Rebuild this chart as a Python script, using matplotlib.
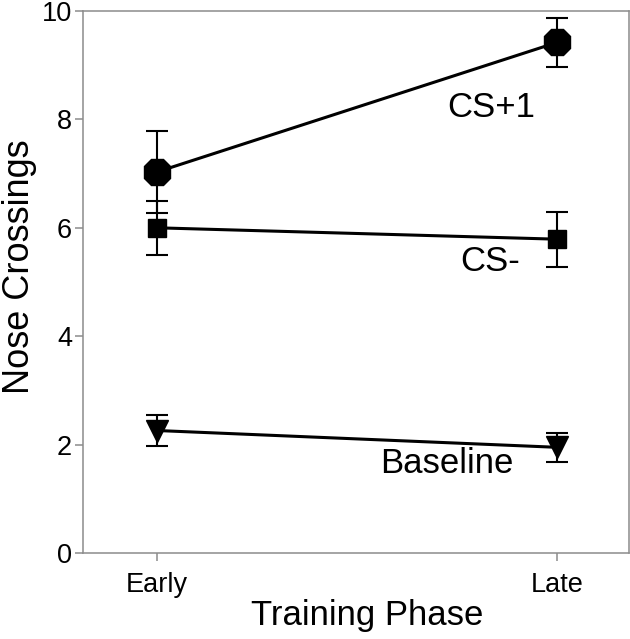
import matplotlib
matplotlib.use("Agg")
import matplotlib.pyplot as plt

plt.rcParams['font.family'] = ['Liberation Sans', 'DejaVu Sans']

phases = ['Early', 'Late']
cs_plus = [7.03, 9.42]
cs_plus_err = [0.76, 0.45]
cs_minus = [6.00, 5.79]
cs_minus_err = [0.50, 0.51]
baseline = [2.26, 1.95]
baseline_err = [0.28, 0.27]

# label text and where it sits (data coords)
labels = ['CS+1', 'CS-', 'Baseline']
label_x = [0.725, 0.758, 0.557]
label_y = [8.22, 5.37, 1.66]

fig = plt.figure(figsize=(6.3, 6.39), dpi=100)
ax = fig.add_axes([83/630, 1 - 553/639, 546/630, 542/639])

xs = list(range(len(phases)))
series = [
    (cs_plus, cs_plus_err, '8', 21),
    (cs_minus, cs_minus_err, 's', 13),
    (baseline, baseline_err, 'v', 16),
]
for vals, errs, mk, ms in series:
    ax.errorbar(xs, vals, yerr=errs, color='black', lw=2.2, marker=mk, ms=ms,
                ecolor='black', elinewidth=1.5, capsize=8, capthick=1.5, zorder=3)

for txt, lx, ly in zip(labels, label_x, label_y):
    ax.text(lx, ly, txt, fontsize=25, ha='left', va='center')

ax.set_xlim(-0.185, 1.18)
ax.set_ylim(0, 10)
ax.set_xticks(xs)
ax.set_xticklabels(phases)
ax.set_yticks([0, 2, 4, 6, 8, 10])

for s in ax.spines.values():
    s.set_color('#8c8c8c')
    s.set_linewidth(1.1)
ax.tick_params(axis='both', colors='#8c8c8c', labelcolor='black', length=6,
               width=1.1, labelsize=19.5)
ax.tick_params(axis='x', pad=8)
ax.tick_params(axis='y', pad=2)

ax.set_xlabel('Training Phase', fontsize=25)
ax.set_ylabel('Nose Crossings', fontsize=26)
ax.xaxis.set_label_coords(0.52, -0.085)
ax.yaxis.set_label_coords(-0.084, 0.528)

fig.savefig('out.png', dpi=100)
